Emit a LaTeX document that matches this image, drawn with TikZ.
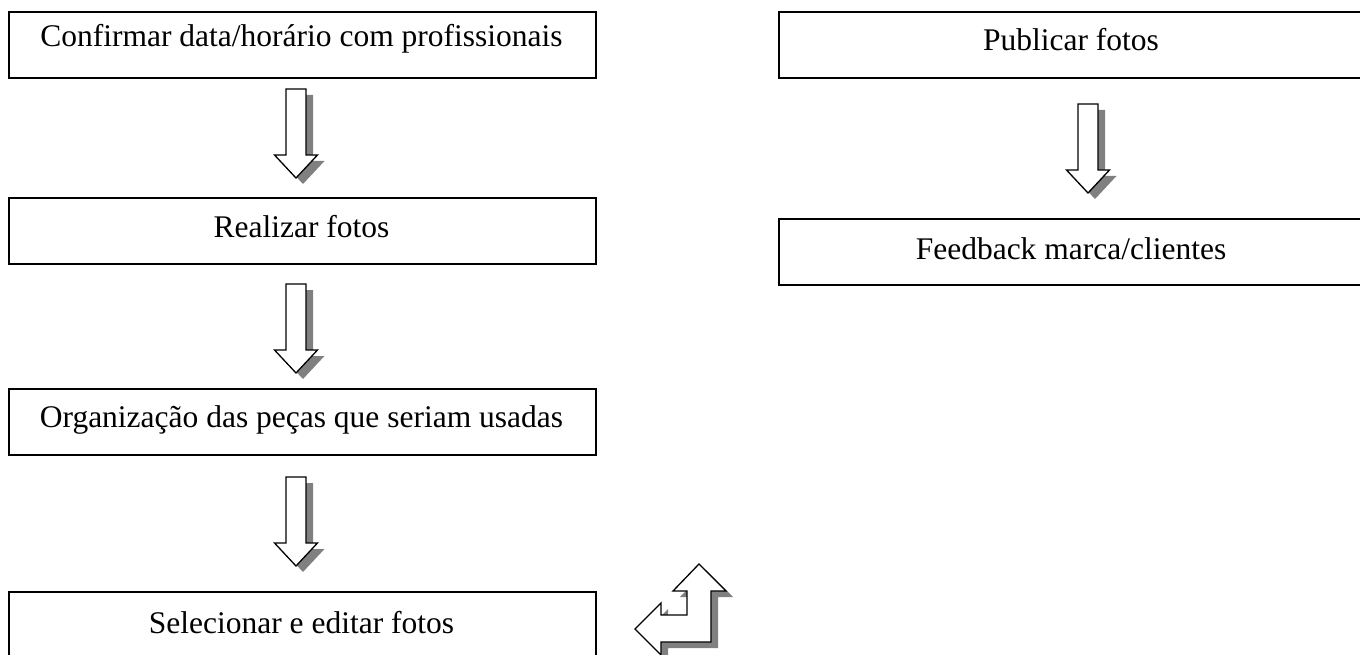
\documentclass[tikz,border=0pt]{standalone}
\usepackage{fontspec}
\setmainfont{Liberation Serif}
\begin{document}
\begin{tikzpicture}[x=1pt,y=-1pt,
  stepbox/.style={draw=black, line width=1.8pt, inner sep=0pt, minimum height=66pt, anchor=north west},
  blk/.style={draw=black, fill=white, line width=1.3pt, line join=miter},
  shad/.style={fill=black!50, draw=none},
  lbl/.style={font=\fontsize{31.5}{38}\selectfont, anchor=base, inner sep=0pt}]
\useasboundingbox (0,0) rectangle (1360,655);
\clip (0,0) rectangle (1360,655);
\newcommand\dnblock[1]{%
  \begin{scope}[shift={#1}]
    \fill[shad] (-3,6) -- (17,6) -- (17,72) -- (28.5,72) -- (7,95) -- (-14.5,72) -- (-3,72) -- cycle;
    \draw[blk] (-10,0) -- (10,0) -- (10,66) -- (21.5,66) -- (0,89) -- (-21.5,66) -- (-10,66) -- cycle;
  \end{scope}}
% left column boxes
\node[stepbox, minimum width=587pt] (b1) at (8,11) {};
\node[stepbox, minimum width=587pt] (b2) at (8,197) {};
\node[stepbox, minimum width=587pt] (b3) at (8,388) {};
\node[stepbox, minimum width=587pt] (b4) at (8,591) {};
\node[lbl] (t1) at (301.5,47) {Confirmar data/horário com profissionais};
\node[lbl] (t2) at (301.5,238) {Realizar fotos};
\node[lbl] (t3) at (301.5,427) {Organização das peças que seriam usadas};
\node[lbl] (t4) at (301.5,633) {Selecionar e editar fotos};
% right column boxes
\node[stepbox, minimum width=586pt] (r1) at (778,11) {};
\node[stepbox, minimum width=586pt] (r2) at (778,218) {};
\node[lbl] (u1) at (1071,51) {Publicar fotos};
\node[lbl] (u2) at (1071,259) {Feedback marca/clientes};
% block arrows
\coordinate (a1) at (296,89);
\coordinate (a2) at (296,284);
\coordinate (a3) at (296,477);
\coordinate (a4) at (1088,104);
\dnblock{(a1)}
\dnblock{(a2)}
\dnblock{(a3)}
\dnblock{(a4)}
% bent arrow
\coordinate (c1) at (635,629);
\begin{scope}[shift={(c1)}]
  \fill[shad] (7,6) -- (33,-20) -- (33,-8) -- (59,-8) -- (59,-32) -- (45,-32) -- (71,-59) -- (98,-32) -- (83,-32) -- (83,19) -- (33,19) -- (33,32) -- cycle;
  \draw[blk] (0,0) -- (26,-26) -- (26,-14) -- (52,-14) -- (52,-38) -- (38,-38) -- (64,-65) -- (91,-38) -- (76,-38) -- (76,13) -- (26,13) -- (26,26) -- cycle;
\end{scope}
\end{tikzpicture}
\end{document}
